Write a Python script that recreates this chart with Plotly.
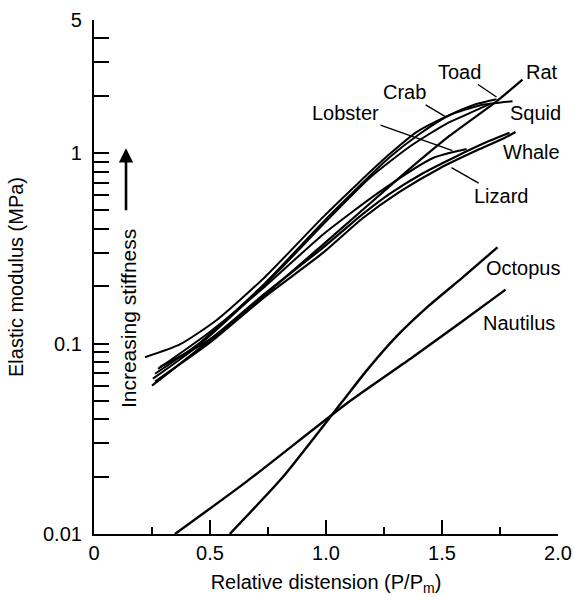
import plotly.graph_objects as go
import math

# ---- data ----
toad_x = [0.220, 0.370, 0.529, 0.736, 0.986, 1.132, 1.274, 1.390, 1.520, 1.649, 1.735]
toad_y = [0.0848, 0.0989, 0.133, 0.223, 0.460, 0.683, 0.988, 1.29, 1.56, 1.81, 1.92]

squid_x = [0.263, 0.456, 0.736, 0.986, 1.132, 1.274, 1.403, 1.532, 1.662, 1.804]
squid_y = [0.0694, 0.101, 0.207, 0.433, 0.650, 0.950, 1.26, 1.58, 1.78, 1.87]

crab_x = [0.254, 0.456, 0.736, 0.986, 1.188, 1.360, 1.520, 1.619, 1.705]
crab_y = [0.0654, 0.0989, 0.203, 0.420, 0.740, 1.08, 1.43, 1.62, 1.81]

rat_x = [0.250, 0.628, 0.986, 1.317, 1.532, 1.735, 1.847]
rat_y = [0.0601, 0.139, 0.330, 0.744, 1.23, 1.87, 2.43]

lobster_x = [0.276, 0.499, 0.736, 0.986, 1.231, 1.459, 1.606]
lobster_y = [0.0736, 0.115, 0.199, 0.373, 0.626, 0.940, 1.05]

whale_x = [0.284, 0.499, 0.736, 0.986, 1.158, 1.274, 1.416, 1.563, 1.705, 1.791]
whale_y = [0.0753, 0.105, 0.183, 0.318, 0.478, 0.611, 0.782, 0.964, 1.16, 1.28]

lizard_x = [0.263, 0.499, 0.736, 0.986, 1.158, 1.317, 1.489, 1.662, 1.769, 1.817]
lizard_y = [0.0631, 0.101, 0.176, 0.299, 0.455, 0.626, 0.831, 1.05, 1.20, 1.29]

octopus_x = [0.585, 0.814, 1.072, 1.175, 1.304, 1.446, 1.588, 1.739]
octopus_y = [0.0100, 0.0199, 0.0499, 0.0721, 0.109, 0.159, 0.222, 0.320]

nautilus_x = [0.349, 0.659, 1.102, 1.373, 1.588, 1.774]
nautilus_y = [0.0100, 0.0189, 0.0498, 0.0848, 0.131, 0.192]

x_tickvals = [0, 0.5, 1.0, 1.5, 2.0]
x_ticktext = ["0", "0.5", "1.0", "1.5", "2.0"]
x_minor = [0.25, 0.75, 1.25, 1.75]

y_tickvals = [0.01, 0.02, 0.03, 0.04, 0.05, 0.06, 0.07, 0.08, 0.09,
              0.1, 0.2, 0.3, 0.4, 0.5, 0.6, 0.7, 0.8, 0.9,
              1, 2, 3, 4, 5]
y_ticktext = ["0.01", "", "", "", "", "", "", "", "",
              "0.1", "", "", "", "", "", "", "", "",
              "1", "", "", "", "5"]

FONT = "Liberation Sans, Arial, Helvetica, sans-serif"

fig = go.Figure()

series = [
    ("Toad", toad_x, toad_y, 2),
    ("Squid", squid_x, squid_y, 2),
    ("Crab", crab_x, crab_y, 2),
    ("Rat", rat_x, rat_y, 2.2),
    ("Lobster", lobster_x, lobster_y, 2),
    ("Whale", whale_x, whale_y, 2.2),
    ("Lizard", lizard_x, lizard_y, 2.2),
    ("Octopus", octopus_x, octopus_y, 2.4),
    ("Nautilus", nautilus_x, nautilus_y, 2.4),
]
for name, xs, ys, w in series:
    fig.add_trace(go.Scatter(x=xs, y=ys, mode="lines", name=name,
                             line=dict(color="black", width=w, shape="spline", smoothing=0.6),
                             hoverinfo="name"))

L = math.log10
annotations = []
# labels with leader lines (point on curve, text offset in px)
for text, px, py, ax, ay in [
    ("Toad", 1.735, 1.97, -37, -25),
    ("Crab", 1.520, 1.54, -42, -25),
    ("Lobster", 1.545, 1.03, -107, -38),
    ("Lizard", 1.541, 0.84, 49, 28),
]:
    annotations.append(dict(x=px, y=L(py), xref="x", yref="y", text=text,
                            showarrow=True, arrowhead=0, arrowwidth=1.4, arrowcolor="black",
                            ax=ax, ay=ay, standoff=0, startstandoff=0,
                            font=dict(size=20, color="black", family=FONT)))
# plain labels
for text, px, py in [
    ("Rat", 1.929, 2.68),
    ("Squid", 1.903, 1.62),
    ("Whale", 1.885, 1.01),
    ("Octopus", 1.851, 0.249),
    ("Nautilus", 1.830, 0.129),
]:
    annotations.append(dict(x=px, y=L(py), xref="x", yref="y", text=text,
                            showarrow=False,
                            font=dict(size=20, color="black", family=FONT)))

# stiffness arrow and text
annotations.append(dict(x=0.138, y=L(1.06), xref="x", yref="y", text=" ",
                        showarrow=True, arrowhead=2, arrowsize=1.1, arrowwidth=2.6,
                        arrowcolor="black", ax=0, ay=66, standoff=0,
                        font=dict(size=4)))
annotations.append(dict(x=0.148, y=L(0.135), xref="x", yref="y",
                        text="Increasing stiffness", textangle=-90, showarrow=False,
                        font=dict(size=21, color="black", family=FONT)))

fig.update_layout(
    width=574, height=597,
    margin=dict(l=94, r=16, t=20, b=63, autoexpand=False),
    paper_bgcolor="white", plot_bgcolor="white",
    showlegend=False,
    font=dict(family=FONT, size=20, color="black"),
    annotations=annotations,
    xaxis=dict(
        range=[0, 2.0], tickmode="array", tickvals=x_tickvals, ticktext=x_ticktext,
        ticks="inside", ticklen=14, tickwidth=2, tickcolor="black",
        minor=dict(tickmode="array", tickvals=x_minor, ticks="inside", ticklen=7,
                   tickwidth=2, tickcolor="black", showgrid=False),
        showline=True, linecolor="black", linewidth=2.2, showgrid=False, zeroline=False,
        automargin=False,
        tickfont=dict(size=20, family=FONT, color="black"),
        title=dict(text="Relative distension (P/P<sub>m</sub>)",
                   font=dict(size=20, family=FONT, color="black"), standoff=12),
    ),
    yaxis=dict(
        type="log", range=[-2, L(5)], tickmode="array",
        tickvals=y_tickvals, ticktext=y_ticktext,
        ticks="inside", ticklen=15, tickwidth=2, tickcolor="black",
        showline=True, linecolor="black", linewidth=2.2, showgrid=False, zeroline=False,
        automargin=False,
        tickfont=dict(size=20, family=FONT, color="black"), ticklabelstandoff=6,
        title=dict(text="Elastic modulus (MPa)",
                   font=dict(size=20, family=FONT, color="black"), standoff=14),
    ),
)

fig.write_html("out.html", config={"displayModeBar": False},
               post_script="document.body.style.margin='0';document.body.style.overflow='hidden';")
